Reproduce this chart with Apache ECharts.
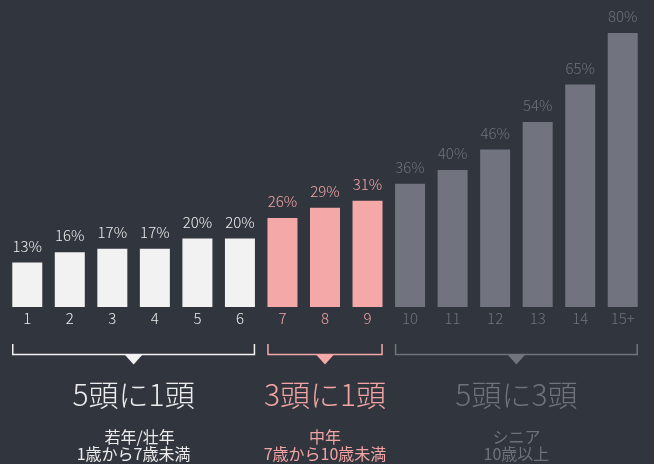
<!DOCTYPE html>
<html>
<head>
<meta charset="utf-8">
<script src="https://cdn.jsdelivr.net/npm/echarts@6/dist/echarts.min.js"></script>
<style>
  html, body { margin: 0; padding: 0; background: #31353e; }
  #main { width: 654px; height: 464px; }
</style>
</head>
<body>
<div id="main"></div>
<script>
// 年齢ごとの割合
var categories = ['1', '2', '3', '4', '5', '6', '7', '8', '9', '10', '11', '12', '13', '14', '15+'];
var rates = [13, 16, 17, 17, 20, 20, 26, 29, 31, 36, 40, 46, 54, 65, 80];

// 年齢グループ
var groupStart = [0, 6, 9];
var groupEnd = [5, 8, 14];
var groupRatio = ['5頭に1頭', '3頭に1頭', '5頭に3頭'];
var groupName = ['若年/壮年', '中年', 'シニア'];
var groupAge = ['1歳から7歳未満', '7歳から10歳未満', '10歳以上'];

var barColors = ['#f2f2f2', '#f4a9a8', '#71747e'];
var textColors = ['#ececec', '#f2a5a4', '#6f727b'];
var FONT = '"Noto Sans CJK JP", "Noto Sans", sans-serif';

function groupOf(i) {
  for (var g = 0; g < groupStart.length; g++) {
    if (i >= groupStart[g] && i <= groupEnd[g]) return g;
  }
  return 0;
}

var chart = echarts.init(document.getElementById('main'), null, {renderer: 'canvas'});

var barData = rates.map(function (v, i) {
  var g = groupOf(i);
  return {
    value: v,
    itemStyle: {color: barColors[g]},
    label: {color: textColors[g]}
  };
});

chart.setOption({
  backgroundColor: '#31353e',
  animation: false,
  grid: {left: 6, right: 10, top: 33, bottom: 157},
  xAxis: {
    type: 'category',
    data: categories,
    axisLine: {show: false},
    axisTick: {show: false},
    axisLabel: {
      margin: 4,
      fontSize: 15,
      fontWeight: 300,
      fontFamily: FONT,
      color: function (val, idx) {
        return textColors[groupOf(categories.indexOf(val))];
      }
    }
  },
  yAxis: {
    type: 'value',
    min: 0,
    max: 80,
    show: false,
    splitLine: {show: false}
  },
  series: [{
    type: 'bar',
    barWidth: 30,
    data: barData,
    label: {
      show: true,
      position: 'top',
      distance: 9,
      fontSize: 15,
      fontWeight: 300,
      fontFamily: FONT,
      formatter: '{c}%'
    }
  }]
});

// 下のブラケットと説明文（軸の位置から計算）
var half = 15;
var base = chart.convertToPixel({yAxisIndex: 0}, 0);
var graphics = [];
for (var g = 0; g < groupStart.length; g++) {
  var x0 = chart.convertToPixel({xAxisIndex: 0}, categories[groupStart[g]]) - half;
  var x1 = chart.convertToPixel({xAxisIndex: 0}, categories[groupEnd[g]]) + half;
  var cx = (x0 + x1) / 2;
  var yTop = base + 37, yLine = base + 47.5;
  graphics.push({
    type: 'polyline',
    shape: {points: [[x0 + 0.5, yTop], [x0 + 0.5, yLine], [x1 - 0.5, yLine], [x1 - 0.5, yTop]]},
    style: {stroke: barColors[g], lineWidth: 1.5, fill: 'none'}
  });
  graphics.push({
    type: 'polygon',
    shape: {points: [[cx - 9, yLine], [cx + 9, yLine], [cx, yLine + 10]]},
    style: {fill: barColors[g]}
  });
  graphics.push({
    type: 'text',
    x: cx, y: base + 88,
    style: {text: groupRatio[g], fill: textColors[g], font: '300 30px ' + FONT, align: 'center', verticalAlign: 'middle'}
  });
  graphics.push({
    type: 'text',
    x: cx + (g === 0 ? 6 : 0), y: base + 130,
    style: {text: groupName[g], fill: textColors[g], font: '16px ' + FONT, align: 'center', verticalAlign: 'middle'}
  });
  graphics.push({
    type: 'text',
    x: cx, y: base + 147,
    style: {text: groupAge[g], fill: textColors[g], font: '16px ' + FONT, align: 'center', verticalAlign: 'middle'}
  });
}
chart.setOption({graphic: graphics});
</script>
</body>
</html>
